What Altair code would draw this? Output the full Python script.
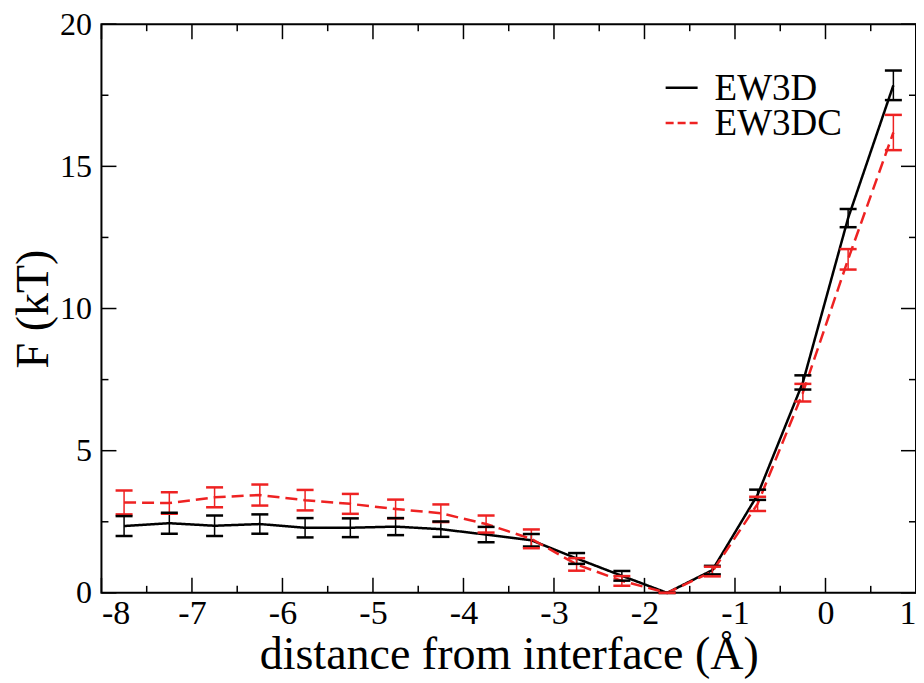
import altair as alt
import pandas as pd

# ---- data ----
x_vals = [-7.75, -7.25, -6.75, -6.25, -5.75, -5.25, -4.75, -4.25, -3.75,
          -3.25, -2.75, -2.25, -1.75, -1.25, -0.75, -0.25, 0.25, 0.75]
f_ew3d = [2.35, 2.45, 2.36, 2.42, 2.29, 2.29, 2.33, 2.24, 2.05,
          1.85, 1.21, 0.60, 0.00, 0.80, 3.45, 7.40, 13.18, 17.85]
err_ew3d = [0.35, 0.37, 0.36, 0.34, 0.34, 0.33, 0.30, 0.27, 0.27,
            0.22, 0.19, 0.17, 0.00, 0.15, 0.18, 0.25, 0.32, 0.52]
f_ew3dc = [3.18, 3.16, 3.36, 3.44, 3.26, 3.13, 2.95, 2.80, 2.42,
           1.90, 1.00, 0.42, 0.00, 0.75, 3.13, 7.04, 11.73, 16.19]
err_ew3dc = [0.42, 0.38, 0.35, 0.37, 0.36, 0.35, 0.33, 0.31, 0.30,
             0.33, 0.22, 0.17, 0.00, 0.17, 0.25, 0.31, 0.36, 0.62]
series_names = ["EW3D", "EW3DC"]
series_colors = ["#000000", "#ee2222"]
series_dashes = [[1, 0], [12, 6]]
legend_dashes = [[1, 0], [8, 4]]

x_major_ticks = [-8, -7, -6, -5, -4, -3, -2, -1, 0, 1]
x_minor_ticks = [-7.5, -6.5, -5.5, -4.5, -3.5, -2.5, -1.5, -0.5, 0.5]
y_major_ticks = [0, 5, 10, 15, 20]
y_minor_ticks = [2.5, 7.5, 12.5, 17.5]

W, H = 815, 569
FONT = "Liberation Serif, Times New Roman, serif"

rows = []
for name, fs, es in [(series_names[0], f_ew3d, err_ew3d),
                     (series_names[1], f_ew3dc, err_ew3dc)]:
    for x, v, e in zip(x_vals, fs, es):
        rows.append({"series": name, "x": x, "f": v, "lo": v - e, "hi": v + e})
df = pd.DataFrame(rows)

xs = alt.Scale(domain=[-8, 1], nice=False, zero=False)
ys = alt.Scale(domain=[0, 20], nice=False, zero=False)

cscale = alt.Scale(domain=series_names, range=series_colors)
color = alt.Color("series:N", scale=cscale, legend=None)
dash = alt.StrokeDash("series:N",
                      scale=alt.Scale(domain=series_names, range=series_dashes),
                      legend=None)

x_axis = alt.Axis(values=x_major_ticks, labelExpr="'' + datum.value", labelPadding=4,
                  labelFontSize=34, title="distance from interface (Å)", titlePadding=2)
y_axis = alt.Axis(values=y_major_ticks, labelPadding=10, labelFontSize=32,
                  title="F (kT)", titlePadding=2)

base = alt.Chart(df)
lines = base.mark_line(strokeWidth=2.5, opacity=1).encode(
    x=alt.X("x:Q", scale=xs, axis=x_axis),
    y=alt.Y("f:Q", scale=ys, axis=y_axis),
    color=color,
    strokeDash=dash,
)
bars = base.mark_rule(strokeWidth=1.5, opacity=1).encode(
    x=alt.X("x:Q", scale=xs),
    y=alt.Y("lo:Q", scale=ys),
    y2="hi:Q",
    color=color,
)
cap_lo = base.mark_tick(orient="horizontal", size=17, thickness=2.5, opacity=1).encode(
    x=alt.X("x:Q", scale=xs),
    y=alt.Y("lo:Q", scale=ys),
    color=color,
)
cap_hi = base.mark_tick(orient="horizontal", size=17, thickness=2.5, opacity=1).encode(
    x=alt.X("x:Q", scale=xs),
    y=alt.Y("hi:Q", scale=ys),
    color=color,
)


def xticks(vals, length):
    c = alt.Chart(pd.DataFrame({"t": vals}))
    bottom = c.mark_rule(color="black", strokeWidth=1.5).encode(
        x=alt.X("t:Q", scale=xs), y=alt.value(H), y2=alt.value(H - length))
    top = c.mark_rule(color="black", strokeWidth=1.5).encode(
        x=alt.X("t:Q", scale=xs), y=alt.value(0), y2=alt.value(length))
    return [bottom, top]


def yticks(vals, length):
    c = alt.Chart(pd.DataFrame({"t": vals}))
    left = c.mark_rule(color="black", strokeWidth=1.5).encode(
        y=alt.Y("t:Q", scale=ys), x=alt.value(0), x2=alt.value(length))
    right = c.mark_rule(color="black", strokeWidth=1.5).encode(
        y=alt.Y("t:Q", scale=ys), x=alt.value(W), x2=alt.value(W - length))
    return [left, right]


tick_layers = (xticks(x_major_ticks, 15) + xticks(x_minor_ticks, 7)
               + yticks(y_major_ticks, 15) + yticks(y_minor_ticks, 7))

# legend (top right, inside the frame)
legend_layers = []
for i, (name, col, dsh) in enumerate(zip(series_names, series_colors, legend_dashes)):
    ly = 63.5 + 35.5 * i
    ldf = pd.DataFrame({"s": [name]})
    legend_layers.append(
        alt.Chart(ldf).mark_rule(color=col, strokeDash=dsh, strokeWidth=2.5).encode(
            x=alt.value(564.5), x2=alt.value(596.5), y=alt.value(ly)))
    legend_layers.append(
        alt.Chart(ldf).mark_text(align="left", baseline="middle", font=FONT,
                                 fontSize=37, color="black", dy=1).encode(
            text="s:N", x=alt.value(613.5), y=alt.value(ly)))

chart = alt.layer(lines, bars, cap_lo, cap_hi, *tick_layers, *legend_layers).properties(
    width=W, height=H,
    autosize=alt.AutoSizeParams(type="none"),
    padding={"left": 93.5, "top": 16, "right": 0, "bottom": 90},
).configure_view(
    stroke="black", strokeWidth=2
).configure_axis(
    labelFont=FONT, labelColor="black",
    titleFont=FONT, titleFontSize=46, titleFontWeight="normal", titleColor="black",
    domain=False, ticks=False, grid=False,
)

chart.save("out.html", embed_options={"renderer": "svg", "actions": False})
